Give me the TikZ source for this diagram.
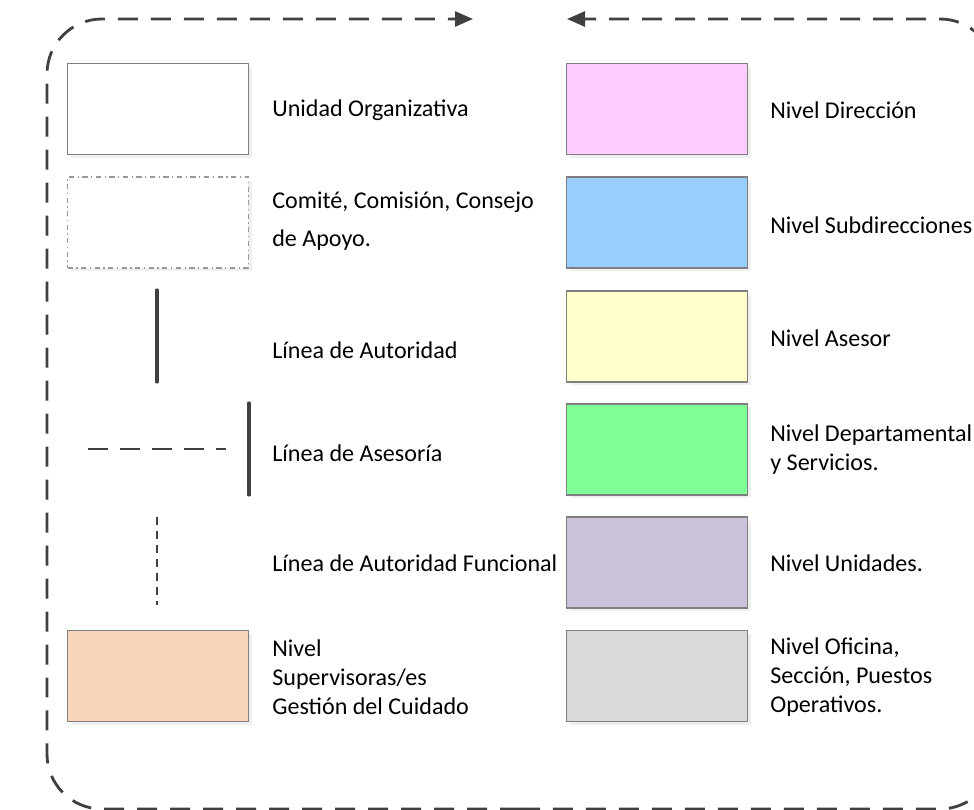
\documentclass[tikz,border=0pt]{standalone}
\usepackage{fontspec}
\setmainfont{Carlito}
\usepackage{xcolor}
\usetikzlibrary{
    arrows.meta,
    shapes,
    positioning,
    shadows,
    calc
}
\definecolor{framegray}{HTML}{404040}
\definecolor{boxborder}{HTML}{7F7F7F}
\definecolor{direccion}{HTML}{FFCCFF}
\definecolor{subdir}{HTML}{99CCFF}
\definecolor{asesor}{HTML}{FFFFCC}
\definecolor{depto}{HTML}{80FF99}
\definecolor{unidades}{HTML}{CCC3DB}
\definecolor{oficina}{HTML}{D9D9D9}
\definecolor{supervis}{HTML}{F8D5B8}

\begin{document}
\begin{tikzpicture}[x=0.02cm, y=-0.02cm,
    level-box/.style={rectangle, draw=boxborder, line width=0.7pt, minimum width=3.62cm, minimum height=1.82cm,
                      inner sep=0pt, drop shadow={shadow xshift=0.07cm, shadow yshift=-0.07cm, fill=black!12}},
    legend-text/.style={anchor=west, align=left, inner sep=0pt, font=\fontsize{13.7}{16.5}\selectfont},
    frame-line/.style={draw=framegray, line width=1.6pt, dash pattern=on 0.4cm off 0.26cm, rounded corners=1.1cm},
    tip/.style={-{Triangle[length=0.36cm, width=0.3cm]}},
    auth-line/.style={draw=framegray, line width=1.8pt, line cap=round}]
    \useasboundingbox (0,0) rectangle (974,810);
    % frame
    \draw [frame-line, tip] (520,809) -- (47,809) -- (47,19) -- (473,19);
    \draw [frame-line, tip] (520,809) -- (995,809) -- (995,19) -- (567,19);
    % left column
    \node [level-box, fill=white] (unidad) at (158,109) {};
    \node [level-box, fill=white, draw=black!40, dash dot] (comite) at (158,222.5) {};
    \node [level-box, fill=supervis] (supervisoras) at (158,676) {};
    \node [legend-text] (unidad-txt) at (272,110) {Unidad Organizativa};
    \node [legend-text, font=\fontsize{13.7}{21.5}\selectfont] (comite-txt) at (272,221) {Comité, Comisión, Consejo\\ de Apoyo.};
    \node [legend-text] (autoridad-txt) at (272,350) {Línea de Autoridad};
    \node [legend-text] (asesoria-txt) at (272,453) {Línea de Asesoría};
    \node [legend-text] (funcional-txt) at (272,563) {Línea de Autoridad Funcional};
    \node [legend-text] (supervisoras-txt) at (272,677) {Nivel\\ Supervisoras/es\\ Gestión del Cuidado};
    % legend lines
    \coordinate (aut-top) at (157,290);
    \coordinate (aut-bot) at (157,382);
    \coordinate (ase-left) at (88,449);
    \coordinate (ase-right) at (226,449);
    \coordinate (ase-top) at (249,403);
    \coordinate (ase-bot) at (249,495);
    \coordinate (fun-top) at (157,517);
    \coordinate (fun-bot) at (157,605);
    \draw [auth-line] (aut-top) -- (aut-bot);
    \draw [draw=framegray, line width=1.6pt, dash pattern=on 0.4cm off 0.24cm] (ase-left) -- (ase-right);
    \draw [auth-line] (ase-top) -- (ase-bot);
    \draw [draw=framegray, line width=1.5pt, dash pattern=on 0.16cm off 0.12cm] (fun-top) -- (fun-bot);
    % right column
    \node [level-box, fill=direccion] (direccion) at (657,109) {};
    \node [level-box, fill=subdir] (subdir) at (657,222.5) {};
    \node [level-box, fill=asesor] (asesor) at (657,336.5) {};
    \node [level-box, fill=depto] (depto) at (657,449.5) {};
    \node [level-box, fill=unidades] (unidades) at (657,562.5) {};
    \node [level-box, fill=oficina] (oficina) at (657,676) {};
    \node [legend-text] (direccion-txt) at (770,110) {Nivel Dirección};
    \node [legend-text] (subdir-txt) at (770,225) {Nivel Subdirecciones};
    \node [legend-text] (asesor-txt) at (770,338) {Nivel Asesor};
    \node [legend-text] (depto-txt) at (770,450) {Nivel Departamental\\ y Servicios.};
    \node [legend-text] (unidades-txt) at (770,563) {Nivel Unidades.};
    \node [legend-text] (oficina-txt) at (770,677) {Nivel Oficina,\\ Sección, Puestos\\ Operativos.};
\end{tikzpicture}
\end{document}
